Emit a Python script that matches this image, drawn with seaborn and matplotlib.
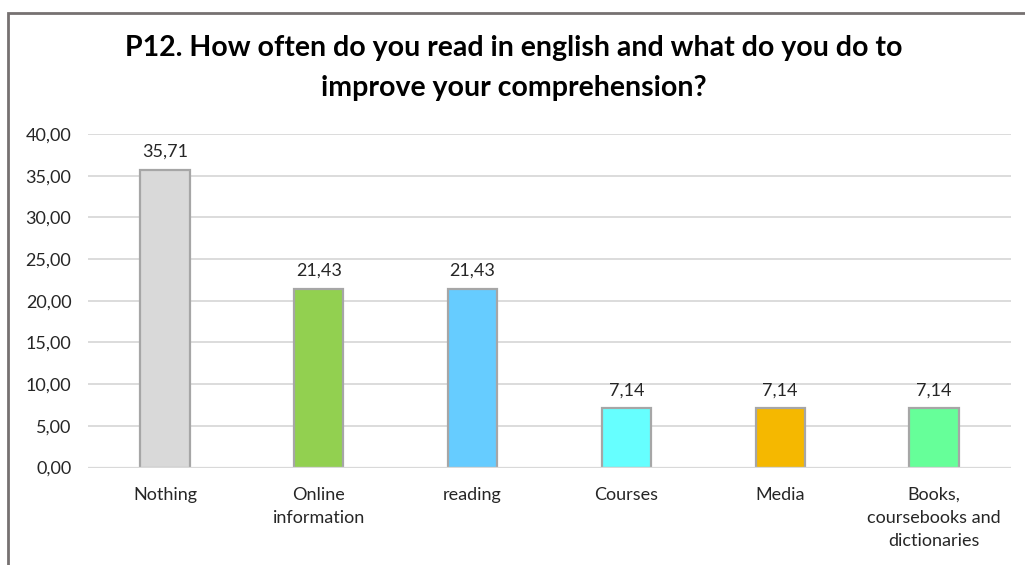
import matplotlib
matplotlib.use("Agg")
import matplotlib.pyplot as plt
from matplotlib.patches import Rectangle
import seaborn as sns
import pandas as pd

categories = ["Nothing", "Online\ninformation", "reading", "Courses", "Media",
              "Books,\ncoursebooks and\ndictionaries"]
values = [35.71, 21.43, 21.43, 7.14, 7.14, 7.14]
bar_colors = ["#D9D9D9", "#92D050", "#66CCFF", "#66FFFF", "#F5B800", "#66FF99"]
y_ticks = [0, 5, 10, 15, 20, 25, 30, 35, 40]
title = "P12. How often do you read in english and what do you do to\nimprove your comprehension?"

sns.set_theme(style="white")
plt.rcParams["font.family"] = ["Lato", "DejaVu Sans"]

df = pd.DataFrame({"category": categories, "value": values})

fig = plt.figure(figsize=(10.25, 5.65), dpi=100)
ax = fig.add_axes([88 / 1025, 1 - 467.5 / 565, (1011 - 88) / 1025, (467.5 - 134) / 565])

sns.barplot(data=df, x="category", y="value", hue="category", palette=bar_colors,
            legend=False, width=0.32, edgecolor="#A6A6A6", linewidth=1.6,
            saturation=1, ax=ax, zorder=3)

ax.set_ylim(0, 40)
ax.set_xlim(-0.5, len(categories) - 0.5)
ax.set_yticks(y_ticks)
ax.set_yticklabels([f"{t:.2f}".replace(".", ",") for t in y_ticks])
ax.grid(axis="y", color="#D9D9D9", linewidth=1.3, zorder=0)
for s in ax.spines.values():
    s.set_visible(False)
ax.axhline(0, color="#D9D9D9", linewidth=1.6, zorder=4)
ax.set_xlabel("")
ax.set_ylabel("")
ax.tick_params(axis="both", length=0, labelsize=13, labelcolor="#262626")
ax.tick_params(axis="y", pad=12)
ax.tick_params(axis="x", pad=14)
for lbl in ax.get_xticklabels():
    lbl.set_linespacing(1.55)
    lbl.set_verticalalignment("top")

for i, v in enumerate(values):
    ax.annotate(f"{v:.2f}".replace(".", ","), (i, v), xytext=(0, 7),
                textcoords="offset points", ha="center", va="bottom",
                fontsize=13, color="#262626")

fig.text(514 / 1025, 1 - 68 / 565, title, ha="center", va="center",
         fontsize=20.5, fontweight="bold", color="#000000", linespacing=1.68)

# outer chart frame
fig.patches.append(Rectangle((7.5 / 1025, -0.05), 1.1, 1 - 12.5 / 565 + 0.05,
                             transform=fig.transFigure, fill=False,
                             edgecolor="#767171", linewidth=2, zorder=10))

fig.savefig("out.png", dpi=100)
